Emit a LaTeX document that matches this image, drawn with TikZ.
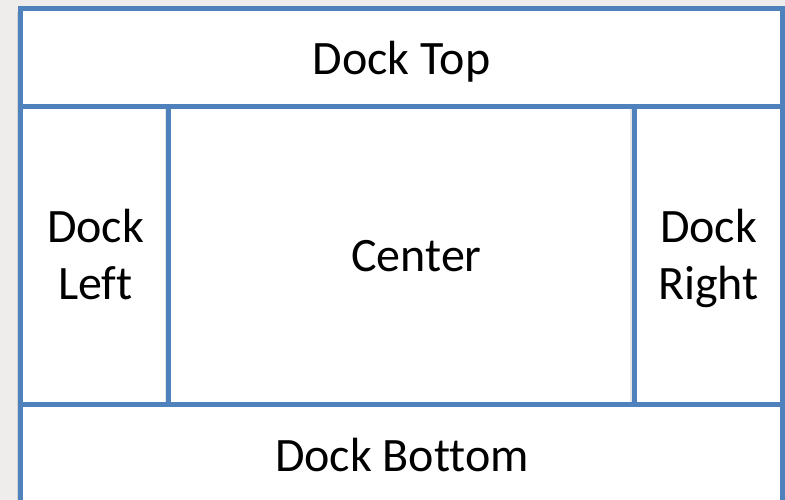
\documentclass[tikz,border=0pt]{standalone}
\usepackage{fontspec}
\setmainfont[Ligatures=NoCommon]{Carlito}
\definecolor{dockblue}{HTML}{4F81BD}
\definecolor{pagegray}{HTML}{EEEDEB}
\definecolor{shade}{HTML}{D4D3D1}
\begin{document}
\begin{tikzpicture}[x=1pt,y=1pt,
  frame/.style={draw=dockblue,line width=5pt},
  shadow/.style={draw=shade,line width=2pt},
  label/.style={inner sep=0pt,anchor=base,align=center,
    font=\fontsize{48}{57}\selectfont}]
  \useasboundingbox (0,0) rectangle (785,500);
  \begin{scope}
    \clip (0,0) rectangle (785,500);
    \fill[pagegray] (0,0) rectangle (785,500);
    \fill[white] (20.5,-10) rectangle (782.5,491.5);
    % soft shading beside the frame edges
    \draw[shadow] (17.5,-10) -- (17.5,488);
    \draw[shadow,draw=shade!60] (165.5,96) -- (165.5,391);
    \draw[shadow,draw=shade!60] (631,96) -- (631,391);
    % dock layout frame
    \draw[frame] (20.5,-10) -- (20.5,491.5) -- (782.5,491.5) -- (782.5,-10);
    \draw[frame] (20.5,393.5) -- (782.5,393.5);
    \draw[frame] (20.5,95.5) -- (782.5,95.5);
    \draw[frame] (168.5,95.5) -- (168.5,393.5);
    \draw[frame] (634,95.5) -- (634,393.5);
  \end{scope}
  % region labels (two-line labels sit on the baseline of their last line)
  \node[label] (top) at (401.5,425) {Dock Top};
  \node[label] (left) at (95.5,200) {Dock\\Left};
  \node[label] (center) at (416.5,228) {Center};
  \node[label] (right) at (708.5,200) {Dock\\Right};
  \node[label] (bottom) at (402,28) {Dock Bottom};
\end{tikzpicture}
\end{document}
